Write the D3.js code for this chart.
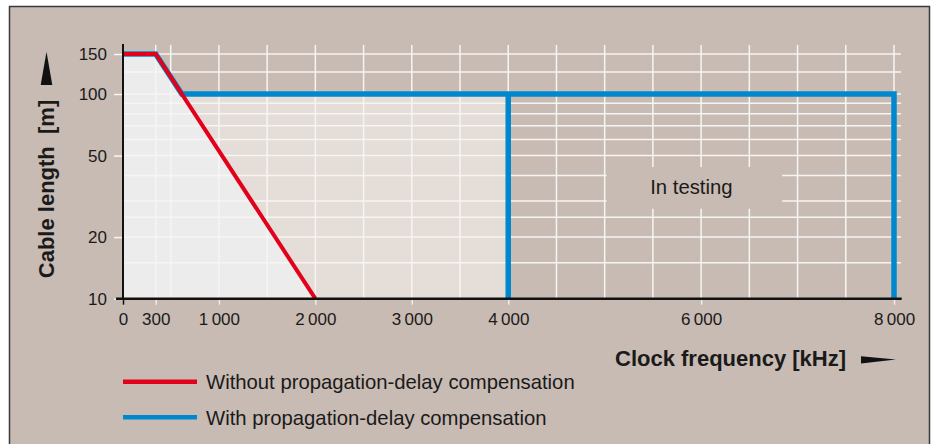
<!DOCTYPE html>
<html>
<head>
<meta charset="utf-8">
<script src="https://cdn.jsdelivr.net/npm/d3@7"></script>
<style>
  body { margin: 0; background: #fff; }
  text { font-family: "Liberation Sans", Arial, sans-serif; fill: #1a1a1a; }
</style>
</head>
<body>
<div id="chart"></div>
<script>
// cable length vs clock frequency (log y)
const redX = [0, 300, 2000];
const redY = [150, 150, 10];
const blueX = [0, 300, 615, 8000, 8000];
const blueY = [150, 150, 100, 100, 10];
const blueDropX = [4000, 4000];
const blueDropY = [100, 10];

const xTicks = [0, 300, 1000, 2000, 3000, 4000, 6000, 8000];
const xGrid = [300, 500, 1000, 1500, 2000, 2500, 3000, 3500, 4000, 4500, 5000, 5500, 6000, 6500, 7000, 7500, 8000];
const yTicks = [10, 20, 50, 100, 150];
const yGrid = [15, 20, 25, 30, 40, 50, 60, 70, 80, 90, 100, 125, 150];

const seriesNames = ["Without propagation-delay compensation", "With propagation-delay compensation"];
const testingLabel = "In testing";
const testingBox = { x0: 5020, x1: 6840, y0: 27.5, y1: 44 };

const width = 933, height = 444;
const bg = "#c8bbb3";
const red = "#e2001a", blue = "#0088cf";

const svg = d3.select("#chart").append("svg")
  .attr("width", width)
  .attr("height", height);

// panel with frame
svg.append("rect").attr("x", 9.5).attr("y", 6.5).attr("width", 920).attr("height", 450)
  .attr("fill", bg).attr("stroke", "#3a3a3a").attr("stroke-width", 1.5);

const x = d3.scaleLinear().domain([0, 300, 500, 8000]).range([123, 155.7, 170.7, 894]);
const y = d3.scaleLog().domain([10, 100, 150]).range([298.7, 94, 54]);

const pts = (xs, ys) => xs.map((v, i) => [v, ys[i]]);
const line = d3.line().x(d => x(d[0])).y(d => y(d[1]));

// fills
svg.append("rect")
  .attr("x", x(0)).attr("y", y(100))
  .attr("width", x(4000) - x(0)).attr("height", y(10) - y(100))
  .attr("fill", "#e4ddd8");
svg.append("path")
  .attr("d", line(pts(redX, redY).concat([[0, 10]])) + "Z")
  .attr("fill", "#ececec");

// grid
svg.append("g").selectAll("line").data(xGrid).join("line")
  .attr("x1", d => x(d)).attr("x2", d => x(d))
  .attr("y1", 45).attr("y2", y(10))
  .attr("stroke", "#f7f5f4").attr("stroke-width", 1.5);
svg.append("g").selectAll("line").data(yGrid).join("line")
  .attr("x1", x(0)).attr("x2", 901)
  .attr("y1", d => y(d)).attr("y2", d => y(d))
  .attr("stroke", "#f7f5f4").attr("stroke-width", 1.5);

// label box knocks out the grid
svg.append("rect")
  .attr("x", x(testingBox.x0)).attr("y", y(testingBox.y1))
  .attr("width", x(testingBox.x1) - x(testingBox.x0))
  .attr("height", y(testingBox.y0) - y(testingBox.y1))
  .attr("fill", bg);
svg.append("text")
  .attr("x", (x(testingBox.x0) + x(testingBox.x1)) / 2 - 3)
  .attr("y", 194)
  .attr("text-anchor", "middle")
  .attr("font-size", "20.3px")
  .text(testingLabel);

// axes
const yAxis = svg.append("g")
  .attr("transform", `translate(${x(0)},0)`)
  .call(d3.axisLeft(y).tickValues(yTicks).tickFormat(d3.format("d")).tickSize(9).tickPadding(7));
yAxis.select(".domain").remove();
yAxis.selectAll(".tick line").attr("stroke", "#f7f5f4").attr("stroke-width", 1.5);
yAxis.selectAll(".tick text").attr("font-size", "17px").attr("font-family", "Liberation Sans, Arial, sans-serif").attr("fill", "#1a1a1a");

const fmtX = d => d >= 1000 ? d3.format(",")(d).replace(",", "\u2009") : String(d);
const xAxis = svg.append("g")
  .attr("transform", `translate(0,${y(10)})`)
  .call(d3.axisBottom(x).tickValues(xTicks).tickFormat(fmtX).tickSize(6).tickPadding(8));
xAxis.select(".domain").remove();
xAxis.selectAll(".tick line").attr("stroke", d => d === 0 ? "#111" : "#f0ecea").attr("stroke-width", 1.5);
xAxis.selectAll(".tick text").attr("font-size", "17px").attr("font-family", "Liberation Sans, Arial, sans-serif").attr("fill", "#1a1a1a");

// series
svg.append("path").attr("d", line(pts(blueX, blueY)))
  .attr("fill", "none").attr("stroke", blue).attr("stroke-width", 5.5).attr("stroke-linejoin", "miter");
svg.append("path").attr("d", line(pts(blueDropX, blueDropY)))
  .attr("fill", "none").attr("stroke", blue).attr("stroke-width", 5.5);
svg.append("path").attr("d", line(pts(redX, redY)))
  .attr("fill", "none").attr("stroke", red).attr("stroke-width", 4);

svg.append("line").attr("x1", x(0)).attr("x2", x(0)).attr("y1", 44).attr("y2", y(10) + 1)
  .attr("stroke", "#111").attr("stroke-width", 2);
svg.append("line").attr("x1", 116).attr("x2", 901.7).attr("y1", y(10)).attr("y2", y(10))
  .attr("stroke", "#111").attr("stroke-width", 2.5);

// axis titles
svg.append("text")
  .attr("transform", "translate(53.5,189) rotate(-90)")
  .attr("text-anchor", "middle")
  .attr("font-size", "22px").attr("font-weight", "bold")
  .style("white-space", "pre")
  .text("Cable length  [m]");
svg.append("path").attr("d", "M46.5,51.7L40.7,85L52.3,85Z").attr("fill", "#111");

svg.append("text")
  .attr("x", 615).attr("y", 366)
  .attr("font-size", "22px").attr("font-weight", "bold")
  .text("Clock frequency [kHz]");
svg.append("path").attr("d", "M861,356.2L896,359.6L861,363.6Z").attr("fill", "#111");

// legend
const legend = svg.append("g").selectAll("g").data(seriesNames).join("g")
  .attr("transform", (d, i) => `translate(0,${381.7 + i * 35.6})`);
legend.append("line").attr("x1", 123).attr("x2", 197)
  .attr("stroke", (d, i) => i === 0 ? red : blue).attr("stroke-width", 4.5);
legend.append("text").attr("x", 206).attr("y", 7.5)
  .attr("font-size", "20.3px")
  .text(d => d);
</script>
</body>
</html>
